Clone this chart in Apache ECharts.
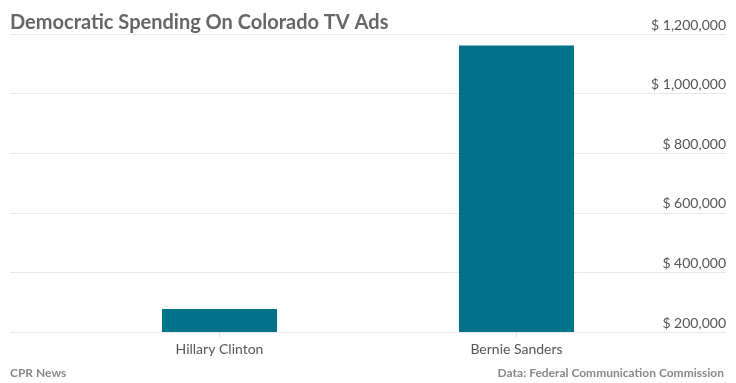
<!DOCTYPE html>
<html><head><meta charset="utf-8">
<script src="https://cdn.jsdelivr.net/npm/echarts@6/dist/echarts.min.js"></script>
<style>html,body{margin:0;padding:0;background:#fff}#c{width:736px;height:383px}</style>
</head><body><div id="c"></div>
<script>
const categories = ["Hillary Clinton", "Bernie Sanders"];
const spending = [277000, 1161000];
const axisMin = 200000, axisMax = 1200000, axisStep = 200000;
const font = "Lato, 'Open Sans', sans-serif";
const chart = echarts.init(document.getElementById('c'));
chart.setOption({
  animation: false,
  title: [
    {text: "Democratic Spending On Colorado TV Ads", left: 5, top: 8,
     textStyle: {fontFamily: font, fontSize: 20, fontWeight: 'bold', color: '#666'}},
    {text: "CPR News", left: 5, top: 362,
     textStyle: {fontFamily: font, fontSize: 12, fontWeight: 'bold', color: '#888'}},
    {text: "Data: Federal Communication Commission", right: 7, top: 362,
     textStyle: {fontFamily: font, fontSize: 12, fontWeight: 'bold', color: '#888'}}
  ],
  grid: [
    {left: 71, right: 71, top: 34, bottom: 51},
    {left: 10, right: 10, top: 34, bottom: 51}
  ],
  xAxis: [
    {type: 'category', gridIndex: 0, data: categories,
     axisLine: {show: false},
     axisTick: {show: true, alignWithLabel: true, length: 5, lineStyle: {color: '#ddd'}},
     axisLabel: {fontFamily: font, fontSize: 14, color: '#555', margin: 10}},
    {type: 'value', gridIndex: 1, show: false}
  ],
  yAxis: [
    {type: 'value', gridIndex: 0, min: axisMin, max: axisMax, interval: axisStep, show: false},
    {type: 'value', gridIndex: 1, position: 'right', min: axisMin, max: axisMax, interval: axisStep,
     axisLine: {show: false}, axisTick: {show: false},
     splitLine: {lineStyle: {color: '#e8e8e8', width: 1}},
     axisLabel: {inside: true, margin: 0, verticalAlign: 'bottom', padding: [0, 0, 2, 0],
       fontFamily: font, fontSize: 14, color: '#555',
       formatter: v => '$ ' + v.toLocaleString('en-US')}}
  ],
  series: [{type: 'bar', xAxisIndex: 0, yAxisIndex: 0, data: spending,
    barWidth: 115, itemStyle: {color: '#00738B'}, z: 3}]
});
</script></body></html>
